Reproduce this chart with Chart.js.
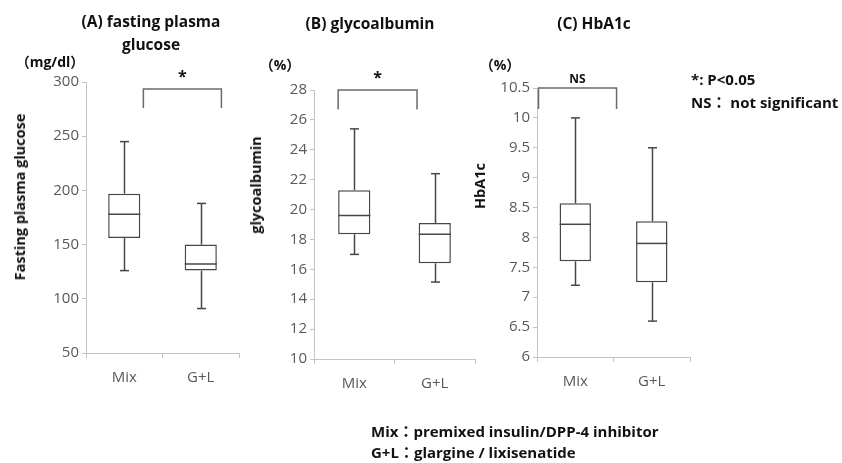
<!DOCTYPE html>
<html><head><meta charset="utf-8">
<script src="https://cdn.jsdelivr.net/npm/chart.js@4.4.1/dist/chart.umd.min.js"></script>
<style>
html,body{margin:0;padding:0;background:#fff;}
#wrap{position:relative;width:842px;height:463px;overflow:hidden;font-family:'Open Sans','Noto Sans CJK JP',sans-serif;}
canvas{position:absolute;top:0;}
.t{position:absolute;white-space:nowrap;font-weight:bold;color:#111;font-size:15px;line-height:20px;}
.c{transform:translate(-50%,-50%);}
.l{transform:translateY(-50%);}
.r{transform:translate(-50%,-50%) rotate(-90deg);font-size:14.5px;}
</style></head><body>
<div id="wrap">
<canvas id="cA" width="260" height="463" style="left:0px"></canvas>
<canvas id="cB" width="240" height="463" style="left:250px"></canvas>
<canvas id="cC" width="240" height="463" style="left:470px"></canvas>

<div class="t c" style="left:151px;top:21px;font-size:15.5px">(A) fasting plasma</div>
<div class="t c" style="left:151px;top:44px;font-size:15.5px">glucose</div>
<div class="t c" style="left:370px;top:23px;font-size:15.5px">(B) glycoalbumin</div>
<div class="t c" style="left:594px;top:23px;font-size:15.5px">(C) HbA1c</div>

<div class="t c" style="left:50px;top:62px;font-size:14px">（mg/dl）</div>
<div class="t c" style="left:280px;top:65px;font-size:14px">（%）</div>
<div class="t c" style="left:500px;top:65px;font-size:14px">（%）</div>

<div class="t r" style="left:20px;top:197px">Fasting plasma glucose</div>
<div class="t r" style="left:256px;top:185px">glycoalbumin</div>
<div class="t r" style="left:480px;top:186px">HbA1c</div>

<div class="t l" style="left:691px;top:79px">*: P&lt;0.05</div>
<div class="t l" style="left:691px;top:102px">NS： not significant</div>

<div class="t l" style="left:371px;top:431px">Mix：premixed insulin/DPP-4 inhibitor</div>
<div class="t l" style="left:371px;top:452px">G+L：glargine / lixisenatide</div>
</div>
<script>
// ---- data ----
const categories = ['Mix', 'G+L'];

const fpgMin = [126, 91];
const fpgQ1  = [156, 126];
const fpgMed = [178, 132];
const fpgQ3  = [197, 150];
const fpgMax = [245, 188];
const fpgTicks = [50, 100, 150, 200, 250, 300];

const gaMin = [17.0, 15.15];
const gaQ1  = [18.35, 16.4];
const gaMed = [19.6, 18.35];
const gaQ3  = [21.3, 19.1];
const gaMax = [25.4, 22.4];
const gaTicks = [10, 12, 14, 16, 18, 20, 22, 24, 26, 28];

const hbMin = [7.2, 6.6];
const hbQ1  = [7.6, 7.25];
const hbMed = [8.22, 7.9];
const hbQ3  = [8.57, 8.27];
const hbMax = [10.0, 9.5];
const hbTicks = [6, 6.5, 7, 7.5, 8, 8.5, 9, 9.5, 10, 10.5];

// significance brackets: category positions, top value, leg end value, label
const bracketA = { from: 0.25, to: 1.27, top: 293.5, end: 276, label: '*' };
const bracketB = { from: -0.2, to: 0.78, top: 28, end: 26.7, label: '*' };
const bracketC = { from: -0.48, to: 0.54, top: 10.5, end: 10.15, label: 'NS' };

// ---- style ----
const BOX = '#474747';
const AX = '#c4c4c4';
const TICKCOL = '#595959';
const FONT = "'Open Sans', sans-serif";

function panel(id, d, L) {
  const plug = {
    id: 'boxplot_' + id,
    afterDatasetsDraw(chart) {
      const ctx = chart.ctx, ys = chart.scales.y, xs = chart.scales.x;
      const meta = chart.getDatasetMeta(0);
      ctx.save();
      ctx.strokeStyle = BOX; ctx.lineWidth = 1.5; ctx.lineCap = 'butt';
      const line = (a, b, c, e) => { ctx.beginPath(); ctx.moveTo(a, b); ctx.lineTo(c, e); ctx.stroke(); };
      meta.data.forEach((bar, i) => {
        const cx = Math.round(bar.x) + 0.5, hw = bar.width / 2, cap = 4.5;
        const pMax = ys.getPixelForValue(d.max[i]);
        const pMin = ys.getPixelForValue(d.min[i]);
        const pQ1 = ys.getPixelForValue(d.q1[i]);
        const pQ3 = ys.getPixelForValue(d.q3[i]);
        const pMed = ys.getPixelForValue(d.med[i]);
        line(cx, pMax, cx, pQ3);
        line(cx, pQ1, cx, pMin);
        line(cx - cap, pMax, cx + cap, pMax);
        line(cx - cap, pMin, cx + cap, pMin);
        line(bar.x - hw, pMed, bar.x + hw, pMed);
      });
      const b = d.bracket;
      const xl = xs.getPixelForValue(b.from), xr = xs.getPixelForValue(b.to);
      const yt = ys.getPixelForValue(b.top), yb = ys.getPixelForValue(b.end);
      ctx.strokeStyle = '#6a6a6a';
      ctx.beginPath(); ctx.moveTo(xl, yb); ctx.lineTo(xl, yt); ctx.lineTo(xr, yt); ctx.lineTo(xr, yb); ctx.stroke();
      ctx.fillStyle = '#111';
      ctx.textAlign = 'center'; ctx.textBaseline = 'middle';
      if (b.label === '*') {
        ctx.font = "bold 16px " + FONT;
        ctx.fillText(b.label, (xl + xr) / 2, yt - 12);
      } else {
        ctx.font = "bold 12px " + FONT;
        ctx.fillText(b.label, (xl + xr) / 2, yt - 8);
      }
      ctx.restore();
    }
  };
  return new Chart(document.getElementById(id), {
    type: 'bar',
    data: {
      labels: categories,
      datasets: [{
        data: d.q1.map((v, i) => [v, d.q3[i]]),
        backgroundColor: '#ffffff',
        borderColor: BOX,
        borderWidth: 1.5,
        borderSkipped: false,
        barPercentage: L.barPct,
        categoryPercentage: 1
      }]
    },
    options: {
      responsive: false, animation: false, devicePixelRatio: 1,
      layout: { padding: { top: L.top, right: L.right, bottom: L.bottom, left: 0 } },
      plugins: { legend: { display: false }, tooltip: { enabled: false } },
      scales: {
        x: {
          grid: { offset: true, drawOnChartArea: false, tickLength: 5, color: AX, lineWidth: 1 },
          border: { color: AX, width: 1 },
          ticks: { font: { family: FONT, size: 15 }, color: TICKCOL, padding: 11 },
          afterFit: s => { s.height = 40; }
        },
        y: {
          min: d.ticks[0], max: d.ticks[d.ticks.length - 1],
          afterBuildTicks: s => { s.ticks = d.ticks.map(v => ({ value: v })); },
          grid: { drawOnChartArea: false, tickLength: 4, color: AX, lineWidth: 1 },
          border: { color: AX, width: 1 },
          ticks: { font: { family: FONT, size: 15 }, color: TICKCOL, padding: 3, callback: v => String(v) },
          afterFit: s => { s.width = L.yw; }
        }
      }
    },
    plugins: [plug]
  });
}

panel('cA', { min: fpgMin, q1: fpgQ1, med: fpgMed, q3: fpgQ3, max: fpgMax, ticks: fpgTicks, bracket: bracketA },
      { top: 82, right: 21, bottom: 70, yw: 86, barPct: 0.42 });
panel('cB', { min: gaMin, q1: gaQ1, med: gaMed, q3: gaQ3, max: gaMax, ticks: gaTicks, bracket: bracketB },
      { top: 90, right: 15, bottom: 64, yw: 64, barPct: 0.40 });
panel('cC', { min: hbMin, q1: hbQ1, med: hbMed, q3: hbQ3, max: hbMax, ticks: hbTicks, bracket: bracketC },
      { top: 88, right: 20, bottom: 66, yw: 67, barPct: 0.41 });
</script>
</body></html>
